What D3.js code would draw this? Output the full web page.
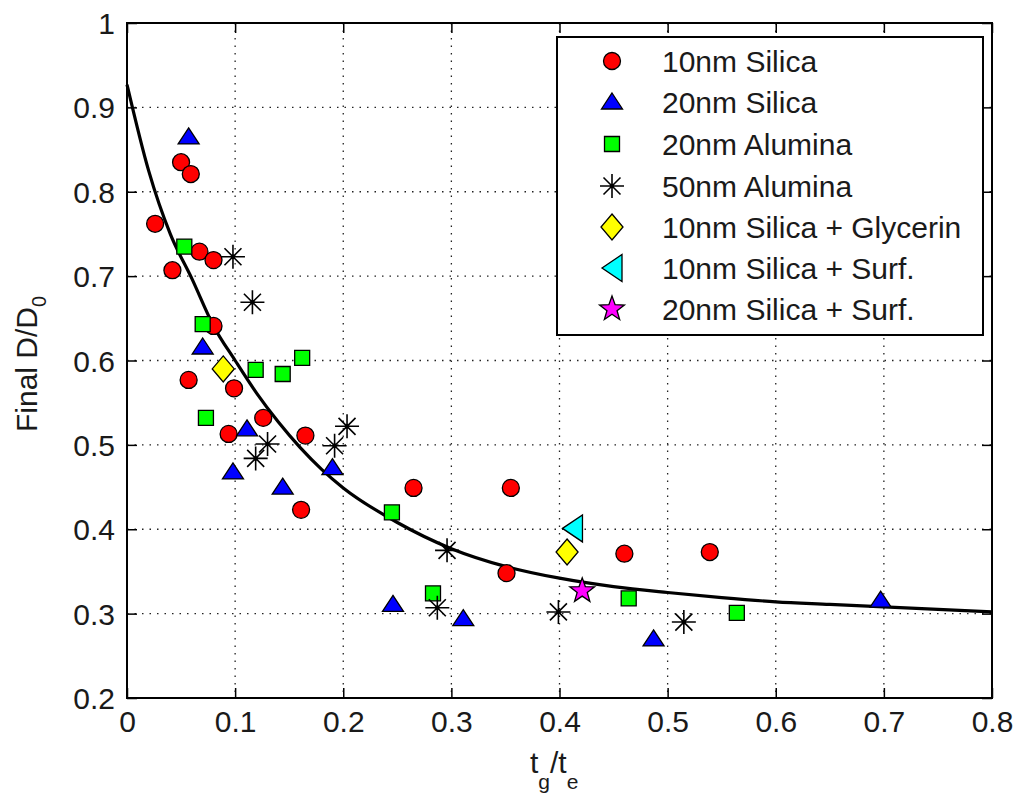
<!DOCTYPE html>
<html>
<head>
<meta charset="utf-8">
<script src="https://cdn.jsdelivr.net/npm/d3@7/dist/d3.min.js"></script>
<style>
  html, body { margin: 0; padding: 0; background: #fff; }
  svg { display: block; }
  text { font-family: "Liberation Sans", Arial, sans-serif; fill: #1a1a1a; }
</style>
</head>
<body>
<svg id="chart" width="1016" height="794"></svg>
<script>
// ---------------- data ----------------
const xTicks = [0, 0.1, 0.2, 0.3, 0.4, 0.5, 0.6, 0.7, 0.8];
const yTicks = [0.2, 0.3, 0.4, 0.5, 0.6, 0.7, 0.8, 0.9, 1];
const xTickLabels = ["0", "0.1", "0.2", "0.3", "0.4", "0.5", "0.6", "0.7", "0.8"];
const yTickLabels = ["0.2", "0.3", "0.4", "0.5", "0.6", "0.7", "0.8", "0.9", "1"];

const seriesNames = ["10nm Silica", "20nm Silica", "20nm Alumina", "50nm Alumina",
                     "10nm Silica + Glycerin", "10nm Silica + Surf.", "20nm Silica + Surf."];

const silica10X = [0.050, 0.059, 0.026, 0.067, 0.080, 0.042, 0.080, 0.057, 0.099, 0.126,
                   0.094, 0.165, 0.265, 0.161, 0.355, 0.460, 0.539, 0.351];
const silica10Y = [0.835, 0.821, 0.762, 0.729, 0.719, 0.707, 0.641, 0.577, 0.567, 0.532,
                   0.513, 0.511, 0.449, 0.423, 0.449, 0.371, 0.373, 0.348];

const silica20X = [0.057, 0.070, 0.111, 0.098, 0.190, 0.144, 0.246, 0.311, 0.487, 0.697];
const silica20Y = [0.865, 0.616, 0.519, 0.468, 0.473, 0.450, 0.311, 0.294, 0.270, 0.316];

const alumina20X = [0.053, 0.070, 0.162, 0.119, 0.144, 0.073, 0.245, 0.283, 0.464, 0.564];
const alumina20Y = [0.735, 0.643, 0.603, 0.589, 0.584, 0.532, 0.420, 0.324, 0.318, 0.301];

const alumina50X = [0.098, 0.116, 0.2035, 0.130, 0.192, 0.119, 0.296, 0.287, 0.399, 0.515];
const alumina50Y = [0.723, 0.669, 0.522, 0.501, 0.499, 0.484, 0.375, 0.307, 0.302, 0.290];

const glycerinX = [0.089, 0.407];
const glycerinY = [0.590, 0.373];

const surf10X = [0.412];
const surf10Y = [0.401];

const surf20X = [0.421];
const surf20Y = [0.327];

// fitted curve
const fitX = [0, 0.02, 0.04, 0.06, 0.08, 0.10, 0.12, 0.14, 0.16, 0.18, 0.20, 0.25, 0.30,
              0.35, 0.40, 0.45, 0.50, 0.55, 0.60, 0.65, 0.70, 0.75, 0.80];
const fitY = [0.927, 0.825, 0.750, 0.697, 0.641, 0.600, 0.561, 0.527, 0.497, 0.471, 0.449,
              0.408, 0.377, 0.356, 0.342, 0.332, 0.325, 0.319, 0.314, 0.311, 0.308, 0.305, 0.302];

// ---------------- layout ----------------
const svg = d3.select("#chart");
const pLeft = 127, pRight = 992, pTop = 23, pBottom = 698;
const x = d3.scaleLinear().domain([0, 0.8]).range([pLeft, pRight]);
const y = d3.scaleLinear().domain([0.2, 1]).range([pBottom, pTop]);

// grid
const grid = svg.append("g").attr("stroke", "#222").attr("stroke-width", 1.3)
  .attr("stroke-dasharray", "1.5,6");
grid.selectAll("line.vx").data(xTicks.slice(1, -1)).join("line")
  .attr("x1", d => x(d)).attr("x2", d => x(d)).attr("y1", pTop).attr("y2", pBottom);
grid.selectAll("line.hy").data(yTicks.slice(1, -1)).join("line")
  .attr("y1", d => y(d)).attr("y2", d => y(d)).attr("x1", pLeft).attr("x2", pRight);

// axes (ticks inward, on all four sides)
const tickLen = 10;
const xAxisB = d3.axisBottom(x).tickValues(xTicks).tickSize(-tickLen).tickFormat((d, i) => xTickLabels[i]).tickPadding(14);
const xAxisT = d3.axisTop(x).tickValues(xTicks).tickSize(-tickLen).tickFormat("");
const yAxisL = d3.axisLeft(y).tickValues(yTicks).tickSize(-tickLen).tickFormat((d, i) => yTickLabels[i]).tickPadding(12);
const yAxisR = d3.axisRight(y).tickValues(yTicks).tickSize(-tickLen).tickFormat("");

function styleAxis(g) {
  g.select(".domain").remove();
  g.selectAll(".tick line").attr("stroke", "#000").attr("stroke-width", 1.5);
  g.selectAll(".tick text").attr("font-size", 30).attr("fill", "#1a1a1a")
    .attr("font-family", "'Liberation Sans', Arial, sans-serif");
}
svg.append("g").attr("transform", `translate(0,${pBottom})`).call(xAxisB).call(styleAxis)
  .selectAll(".tick text").attr("dy", "0.71em").attr("y", 13);
svg.append("g").attr("transform", `translate(0,${pTop})`).call(xAxisT).call(styleAxis);
svg.append("g").attr("transform", `translate(${pLeft},0)`).call(yAxisL).call(styleAxis)
  .selectAll(".tick text").attr("dy", "0.35em");
svg.append("g").attr("transform", `translate(${pRight},0)`).call(yAxisR).call(styleAxis);

// fitted curve
const line = d3.line().x((d, i) => x(fitX[i])).y((d, i) => y(fitY[i])).curve(d3.curveMonotoneX);
svg.append("path").datum(fitY).attr("d", line).attr("fill", "none")
  .attr("stroke", "#000").attr("stroke-width", 3.2);

// ---------------- marker shapes ----------------
function starPath(R, r) {
  const pts = [];
  for (let k = 0; k < 10; k++) {
    const a = -Math.PI / 2 + k * Math.PI / 5;
    const rr = k % 2 === 0 ? R : r;
    pts.push([rr * Math.cos(a), rr * Math.sin(a)]);
  }
  return "M" + pts.map(p => p.join(",")).join("L") + "Z";
}
const shapes = {
  circle: { d: "M-8.5,0A8.5,8.5 0 1,1 8.5,0A8.5,8.5 0 1,1 -8.5,0Z", fill: "#ff0000" },
  triUp: { d: "M0,-9L10.5,7L-10.5,7Z", fill: "#0000ff" },
  square: { d: "M-7.5,-7.5H7.5V7.5H-7.5Z", fill: "#00ff00" },
  asterisk: { d: "M-12,0H12M0,-12V12M-8.5,-8.5L8.5,8.5M-8.5,8.5L8.5,-8.5", fill: "none" },
  diamond: { d: "M0,-13L11,0L0,13L-11,0Z", fill: "#ffff00" },
  triLeft: { d: "M-10,0L10,-13.5L10,13.5Z", fill: "#00ffff" },
  star: { d: starPath(13, 5.3), fill: "#ff00ff" }
};

const series = [
  { xs: silica10X, ys: silica10Y, shape: "circle" },
  { xs: silica20X, ys: silica20Y, shape: "triUp" },
  { xs: alumina20X, ys: alumina20Y, shape: "square" },
  { xs: alumina50X, ys: alumina50Y, shape: "asterisk" },
  { xs: glycerinX, ys: glycerinY, shape: "diamond" },
  { xs: surf10X, ys: surf10Y, shape: "triLeft" },
  { xs: surf20X, ys: surf20Y, shape: "star" }
];

function drawMarker(g, shapeKey) {
  const s = shapes[shapeKey];
  const p = g.append("path").attr("d", s.d).attr("fill", s.fill).attr("stroke", "#000");
  if (shapeKey === "asterisk") {
    p.attr("stroke-width", 1.6);
    g.append("circle").attr("r", 2.2).attr("fill", "#000");
  } else {
    p.attr("stroke-width", 1.3).attr("stroke-linejoin", "miter");
  }
}

const markerLayer = svg.append("g");
series.forEach(s => {
  s.xs.forEach((xv, i) => {
    const g = markerLayer.append("g").attr("transform", `translate(${x(xv)},${y(s.ys[i])})`);
    drawMarker(g, s.shape);
  });
});

// frame
svg.append("rect").attr("x", pLeft).attr("y", pTop).attr("width", pRight - pLeft).attr("height", pBottom - pTop)
  .attr("fill", "none").attr("stroke", "#000").attr("stroke-width", 2);

// ---------------- legend ----------------
const leg = svg.append("g");
leg.append("rect").attr("x", 557).attr("y", 37).attr("width", 426).attr("height", 298)
  .attr("fill", "#fff").attr("stroke", "#000").attr("stroke-width", 2);
const rowY = [61, 102, 144, 186, 227, 268, 309];
series.forEach((s, i) => {
  const g = leg.append("g").attr("transform", `translate(612,${rowY[i]})`);
  drawMarker(g, s.shape);
  leg.append("text").attr("x", 662).attr("y", rowY[i] + 11).attr("font-size", 30)
    .text(seriesNames[i]);
});

// ---------------- axis titles ----------------
const xl = svg.append("text").attr("x", 530).attr("y", 773).attr("font-size", 30);
xl.append("tspan").text("t");
xl.append("tspan").attr("font-size", 21).attr("dy", 16).text("g");
xl.append("tspan").attr("dy", -16).text("/t");
xl.append("tspan").attr("font-size", 21).attr("dy", 16).text("e");

const yl = svg.append("text").attr("transform", "translate(37,432) rotate(-90)").attr("font-size", 30);
yl.append("tspan").text("Final D/D");
yl.append("tspan").attr("font-size", 20).attr("dy", 9).text("0");
</script>
</body>
</html>
